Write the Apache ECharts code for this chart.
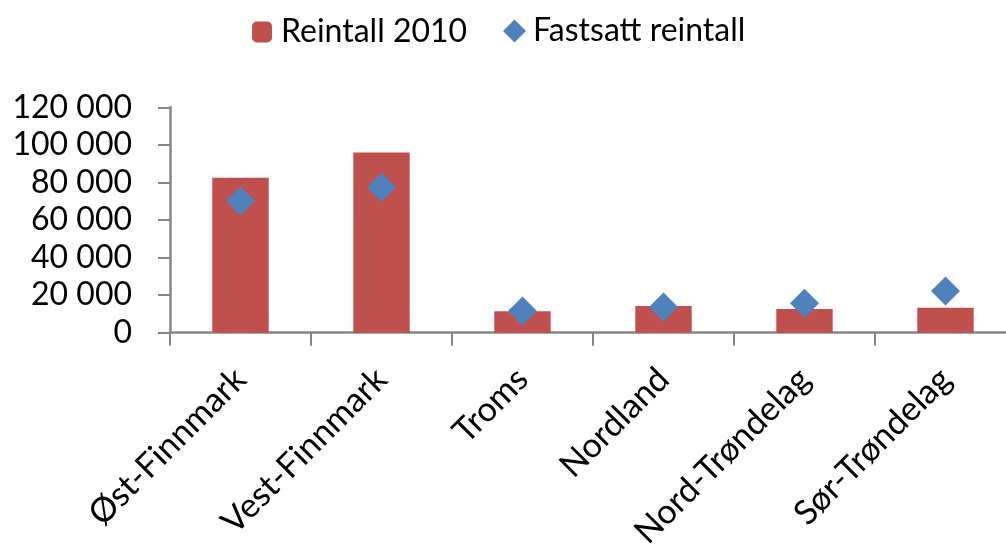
<!DOCTYPE html>
<html>
<head>
<meta charset="utf-8">
<script src="https://cdn.jsdelivr.net/npm/echarts@6/dist/echarts.min.js"></script>
<style>
html,body{margin:0;padding:0;background:#fff;}
#chart{width:1006px;height:553px;}
</style>
</head>
<body>
<div id="chart"></div>
<script>
const categories = ['Øst-Finnmark', 'Vest-Finnmark', 'Troms', 'Nordland', 'Nord-Trøndelag', 'Sør-Trøndelag'];
const reintall2010 = [82500, 96000, 11400, 14200, 12600, 13300];
const fastsattReintall = [70100, 77400, 11500, 13700, 15700, 22200];
const seriesNames = ['Reintall 2010', 'Fastsatt reintall'];

const FONT = 'Lato';
const chart = echarts.init(document.getElementById('chart'));
chart.setOption({
  animation: false,
  backgroundColor: '#ffffff',
  textStyle: { fontFamily: FONT },
  legend: [
    {
      data: [seriesNames[0]],
      left: 247, top: 11,
      itemWidth: 20, itemHeight: 21,
      itemGap: 0,
      textStyle: { fontFamily: FONT, fontSize: 32, color: '#000', padding: [0, 0, 0, 4], lineHeight: 22 }
    },
    {
      data: [{ name: seriesNames[1], icon: 'diamond' }],
      left: 498, top: 10,
      itemWidth: 23, itemHeight: 23,
      itemGap: 0,
      textStyle: { fontFamily: FONT, fontSize: 32, color: '#000', padding: [0, 0, 0, 2], lineHeight: 23 }
    }
  ],
  grid: {
    left: 170, right: -10, top: 107.3, bottom: 220.3,
    containLabel: false,
    outerBoundsMode: 'none'
  },
  xAxis: {
    type: 'category',
    data: categories,
    axisLine: { show: true, lineStyle: { color: '#868686', width: 2.5 } },
    axisTick: { show: true, length: 13, lineStyle: { color: '#868686', width: 2 } },
    axisLabel: {
      rotate: 45, margin: 41, interval: 0,
      fontFamily: FONT, fontSize: 34, color: '#000'
    },
    splitLine: { show: false }
  },
  yAxis: {
    type: 'value',
    min: 0, max: 120000, interval: 20000,
    axisLine: { show: true, lineStyle: { color: '#868686', width: 2.5 } },
    axisTick: { show: true, length: 12, lineStyle: { color: '#868686', width: 2 } },
    axisLabel: {
      margin: 38,
      fontFamily: FONT, fontSize: 32, color: '#000',
      formatter: v => String(v).replace(/\B(?=(\d{3})+(?!\d))/g, ' ')
    },
    splitLine: { show: false }
  },
  series: [
    {
      name: seriesNames[0],
      type: 'bar',
      data: reintall2010,
      barWidth: '40%',
      itemStyle: { color: '#C0504D' }
    },
    {
      name: seriesNames[1],
      type: 'scatter',
      data: fastsattReintall,
      symbol: 'diamond',
      symbolSize: 29,
      itemStyle: { color: '#4F81BD', opacity: 1 }
    }
  ]
});
</script>
</body>
</html>
